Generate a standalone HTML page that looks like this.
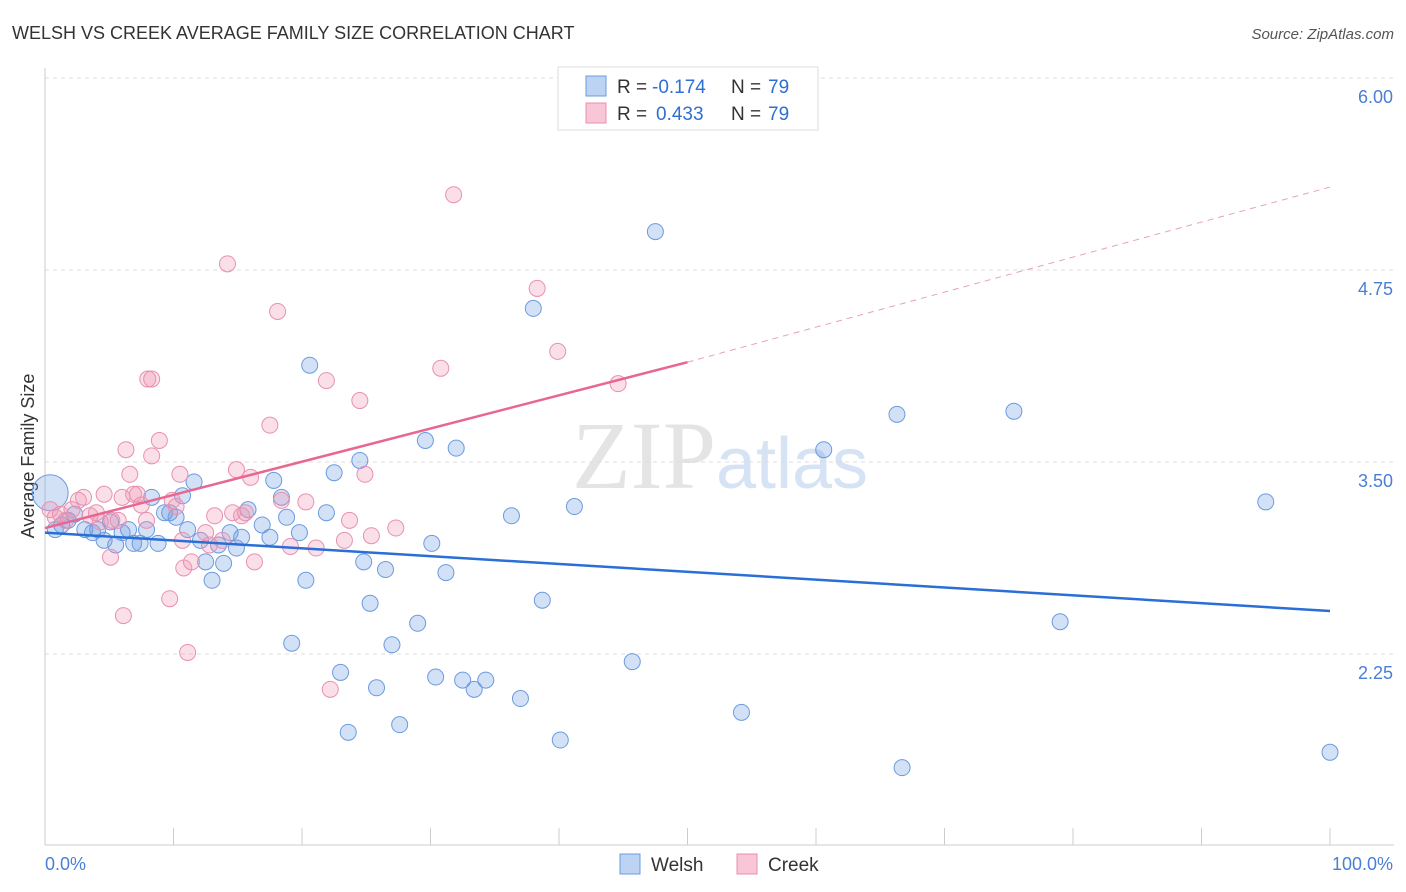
<!DOCTYPE html>
<html><head><meta charset="utf-8"><style>
body{margin:0;background:#fff;font-family:"Liberation Sans",sans-serif;}
#wrap{position:relative;width:1406px;height:892px;overflow:hidden;}
</style></head><body>
<div id="wrap">
<svg id="chart" width="1406" height="892">
<text x="12" y="39" font-size="18" fill="#333">WELSH VS CREEK AVERAGE FAMILY SIZE CORRELATION CHART</text>
<text x="1394" y="39" font-size="15" fill="#555" font-style="italic" text-anchor="end">Source: ZipAtlas.com</text>
<text x="720" y="488" font-size="96" fill="#e4e4e4" text-anchor="middle" font-family="Liberation Serif,serif">ZIP<tspan fill="#d6e3f5" font-family="Liberation Sans,sans-serif" font-size="72">atlas</tspan></text>
<text transform="translate(34,456) rotate(-90)" font-size="18" fill="#333" text-anchor="middle">Average Family Size</text>
<g id="grid"></g><g id="axes"></g><g id="pts"></g><g id="trend"></g>
<g>
<rect x="558" y="67" width="260" height="63" fill="#fff" stroke="#ddd"/>
<rect x="586" y="76" width="20" height="20" fill="#bcd3f3" stroke="#6a9be0"/>
<rect x="586" y="103" width="20" height="20" fill="#f8c6d6" stroke="#e890b0"/>
<text x="617" y="93" font-size="19" fill="#333">R =</text>
<text x="652" y="93" font-size="19" fill="#2e6fd4">-0.174</text>
<text x="731" y="93" font-size="19" fill="#333">N =</text>
<text x="768" y="93" font-size="19" fill="#2e6fd4">79</text>
<text x="617" y="120" font-size="19" fill="#333">R =</text>
<text x="656" y="120" font-size="19" fill="#2e6fd4">0.433</text>
<text x="731" y="120" font-size="19" fill="#333">N =</text>
<text x="768" y="120" font-size="19" fill="#2e6fd4">79</text>
</g>
<g>
<rect x="620" y="854" width="20" height="20" fill="#bcd3f3" stroke="#6a9be0"/>
<text x="651" y="871" font-size="19" fill="#333">Welsh</text>
<rect x="737" y="854" width="20" height="20" fill="#f8c6d6" stroke="#e890b0"/>
<text x="768" y="871" font-size="19" fill="#333">Creek</text>
</g>
<text x="45" y="870" font-size="18" fill="#4a7fd6">0.0%</text>
<text x="1393" y="870" font-size="18" fill="#4a7fd6" text-anchor="end">100.0%</text>
</svg>
</div>
<script>
const yTicks=[6.00,4.75,3.50,2.25];
const xTickPcts=[0,10,20,30,40,50,60,70,80,90,100];
const welshX=[0.4,0.8,1.3,1.8,2.3,3.1,3.7,4.1,4.6,5.1,5.5,6.0,6.5,6.9,7.4,7.9,8.3,8.8,9.3,9.7,10.2,10.7,11.1,11.6,12.1,12.5,13.0,13.5,13.9,14.4,14.9,15.3,15.8,16.9,17.5,17.8,18.4,18.8,19.2,19.8,20.3,20.6,21.9,22.5,23.0,23.6,24.5,24.8,25.3,25.8,26.5,27.0,27.6,29.0,29.6,30.1,30.4,31.2,32.0,32.5,33.4,34.3,36.3,37.0,38.0,38.7,40.1,41.2,45.7,47.5,54.2,60.6,66.3,66.7,75.4,79.0,95.0,100];
const welshY=[3.30,3.06,3.09,3.12,3.16,3.06,3.04,3.06,2.99,3.11,2.96,3.04,3.06,2.97,2.97,3.06,3.27,2.97,3.17,3.17,3.14,3.28,3.06,3.37,2.99,2.85,2.73,2.96,2.84,3.04,2.94,3.01,3.19,3.09,3.01,3.38,3.27,3.14,2.32,3.04,2.73,4.13,3.17,3.43,2.13,1.74,3.51,2.85,2.58,2.03,2.80,2.31,1.79,2.45,3.64,2.97,2.10,2.78,3.59,2.08,2.02,2.08,3.15,1.96,4.50,2.60,1.69,3.21,2.20,5.00,1.87,3.58,3.81,1.51,3.83,2.46,3.24,1.61];
const creekX=[0.4,0.8,1.2,1.6,2.1,2.6,3.0,3.5,4.0,4.3,4.6,5.1,5.2,5.7,6.0,6.1,6.3,6.6,6.9,7.2,7.5,7.9,8.0,8.3,8.3,8.9,9.7,9.9,10.2,10.5,10.7,10.8,11.1,11.4,12.5,12.8,13.2,13.8,14.2,14.6,14.9,15.3,15.6,16.0,16.3,17.5,18.1,18.4,19.1,20.3,21.1,21.9,22.2,23.3,23.7,24.5,24.9,25.4,27.3,30.8,31.8,38.3,39.9,44.6];
const creekY=[3.19,3.14,3.16,3.12,3.19,3.25,3.27,3.15,3.17,3.11,3.29,2.88,3.12,3.12,3.27,2.50,3.58,3.42,3.29,3.29,3.22,3.12,4.04,4.04,3.54,3.64,2.61,3.25,3.21,3.42,2.99,2.81,2.26,2.85,3.04,2.96,3.15,2.99,4.79,3.17,3.45,3.15,3.17,3.40,2.85,3.74,4.48,3.25,2.95,3.24,2.94,4.03,2.02,2.99,3.12,3.90,3.42,3.02,3.07,4.11,5.24,4.63,4.22,4.01];
const welshTrendX=[0,100], welshTrendY=[3.04,2.53];
const creekTrendX=[0,50,100], creekTrendY=[3.07,4.15,5.29];

const NS='http://www.w3.org/2000/svg';
const X=p=>45+p*12.85;
const Y=v=>78+(6-v)*153.6;
function mk(tag,attrs,parent){const e=document.createElementNS(NS,tag);for(const k in attrs)e.setAttribute(k,attrs[k]);parent.appendChild(e);return e;}
const grid=document.getElementById('grid'),axes=document.getElementById('axes'),pts=document.getElementById('pts'),trend=document.getElementById('trend');
yTicks.forEach(v=>{
  const l=mk('line',{x1:45,x2:1394,y1:Y(v),y2:Y(v),stroke:'#ddd','stroke-dasharray':'4,4'},grid);
  
  
  const t=mk('text',{x:1393,y:Y(v)+25,'font-size':18,fill:'#4a7fd6','text-anchor':'end'},grid);
  t.textContent=v.toFixed(2);
  
  
});
const ax=mk('line',{x1:45,x2:1394,y1:845,y2:845,stroke:'#ccc'},axes);


const ay=mk('line',{x1:45,x2:45,y1:68,y2:845,stroke:'#ccc'},axes);


xTickPcts.forEach(p=>{
  const t=mk('line',{x1:X(p),x2:X(p),y1:828,y2:845,stroke:'#ccc'},axes);
  
  
});
welshX.forEach((x,i)=>{
  const c=mk('circle',{cx:X(x),cy:Y(welshY[i]),r:i===0?18:8,fill:'rgba(110,155,225,0.3)',stroke:'#6a9be0','stroke-width':1},pts);
  
  
});
creekX.forEach((x,i)=>{
  const c=mk('circle',{cx:X(x),cy:Y(creekY[i]),r:8,fill:'rgba(240,150,180,0.3)',stroke:'#e890b0','stroke-width':1},pts);
  
  
});
const wl=mk('line',{x1:X(welshTrendX[0]),y1:Y(welshTrendY[0]),x2:X(welshTrendX[1]),y2:Y(welshTrendY[1]),stroke:'#2a6fd6','stroke-width':2.5},trend);


const cl=mk('line',{x1:X(creekTrendX[0]),y1:Y(creekTrendY[0]),x2:X(creekTrendX[1]),y2:Y(creekTrendY[1]),stroke:'#e8668f','stroke-width':2.5},trend);


const cd=mk('line',{x1:X(creekTrendX[1]),y1:Y(creekTrendY[1]),x2:X(creekTrendX[2]),y2:Y(creekTrendY[2]),stroke:'#eaa0b8','stroke-width':1,'stroke-dasharray':'6,5'},trend);


</script>
</body></html>
